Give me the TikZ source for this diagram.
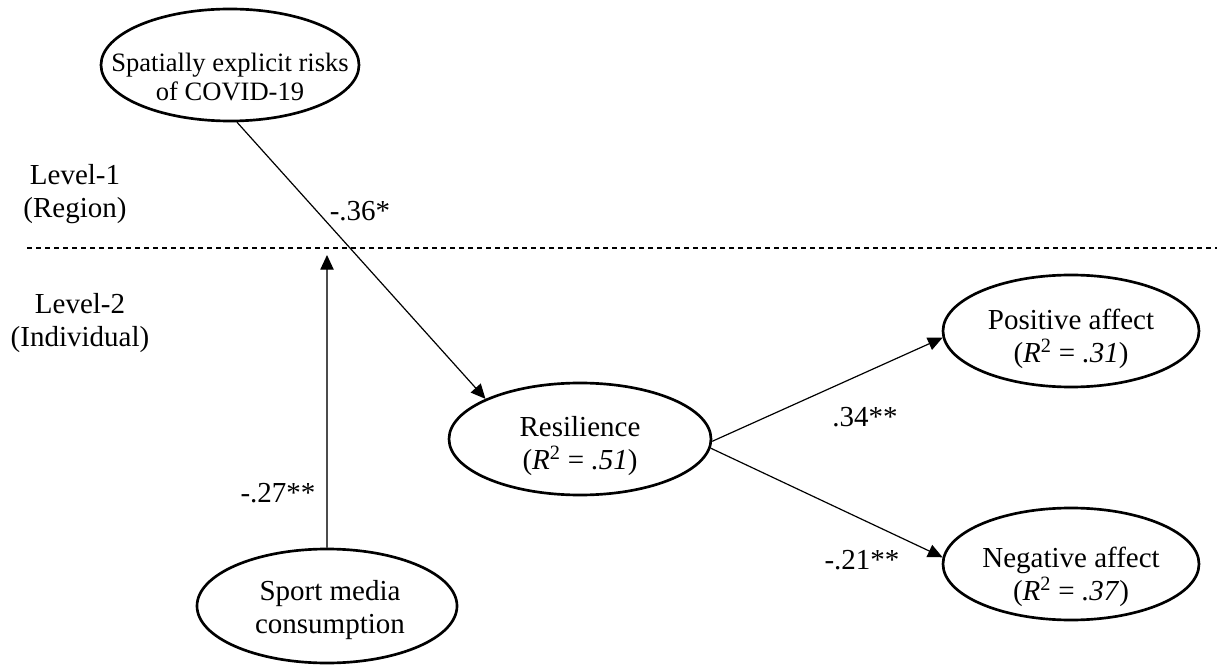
\documentclass[tikz,border=0pt]{standalone}
\usepackage{fontspec}
\setmainfont{Liberation Serif}
\usetikzlibrary{arrows.meta,shapes.geometric}
\begin{document}
\begin{tikzpicture}[x=0.75pt,y=-0.75pt,
  ell/.style={draw, ellipse, line width=2pt, inner sep=0pt},
  txt/.style={align=center, inner sep=0pt, font=\fontsize{21.75}{25}\selectfont},
  arr/.style={line width=0.9pt, -{Triangle[length=11pt,width=10pt,color=black]}},
  dashline/.style={line width=0.9pt, dash pattern=on 3.75pt off 3pt}]
\useasboundingbox (0,0) rectangle (1217,666);
% ellipses
\node[ell, minimum width=193.5pt, minimum height=84pt] (risk) at (230,65) {};
\node[txt, font=\fontsize{19.9}{22.1}\selectfont] (riskT) at (230,77) {Spatially explicit risks\\of COVID-19};
\node[ell, minimum width=196.5pt, minimum height=84pt] (res) at (580,439) {};
\node[txt] (resT) at (580,446) {Resilience\\(\textit{R}\textsuperscript{2} = \textit{.51})};
\node[ell, minimum width=192pt, minimum height=84pt] (pos) at (1071,331) {};
\node[txt] (posT) at (1071,339) {Positive affect\\(\textit{R}\textsuperscript{2} = \textit{.31})};
\node[ell, minimum width=192pt, minimum height=84pt] (neg) at (1071,564) {};
\node[txt] (negT) at (1071,577) {Negative affect\\(\textit{R}\textsuperscript{2} = \textit{.37})};
\node[ell, minimum width=195pt, minimum height=85.5pt] (sport) at (327,606) {};
\node[txt] (sportT) at (330,610) {Sport media\\consumption};
% level labels
\node[txt] (lev1) at (75,194) {Level-1\\(Region)};
\node[txt] (lev2) at (80,323) {Level-2\\(Individual)};
% dashed separator
\coordinate (dL) at (27,248);
\coordinate (dR) at (1217,248);
\draw[dashline] (dL) -- (dR);
% paths
\coordinate (modtip) at (327,255);
\draw[arr, draw=black!70] (sport.north) -- (modtip);
\draw[arr] (risk.-83) -- (res.157);
\draw[arr] (res.-1) -- (pos.183);
\draw[arr] (res.-4) -- (neg.177);
% coefficients
\node[txt] (b1) at (360,211) {-.36*};
\node[txt] (b2) at (278,493) {-.27**};
\node[txt] (b3) at (865,417) {.34**};
\node[txt] (b4) at (862,560) {-.21**};
\end{tikzpicture}
\end{document}
